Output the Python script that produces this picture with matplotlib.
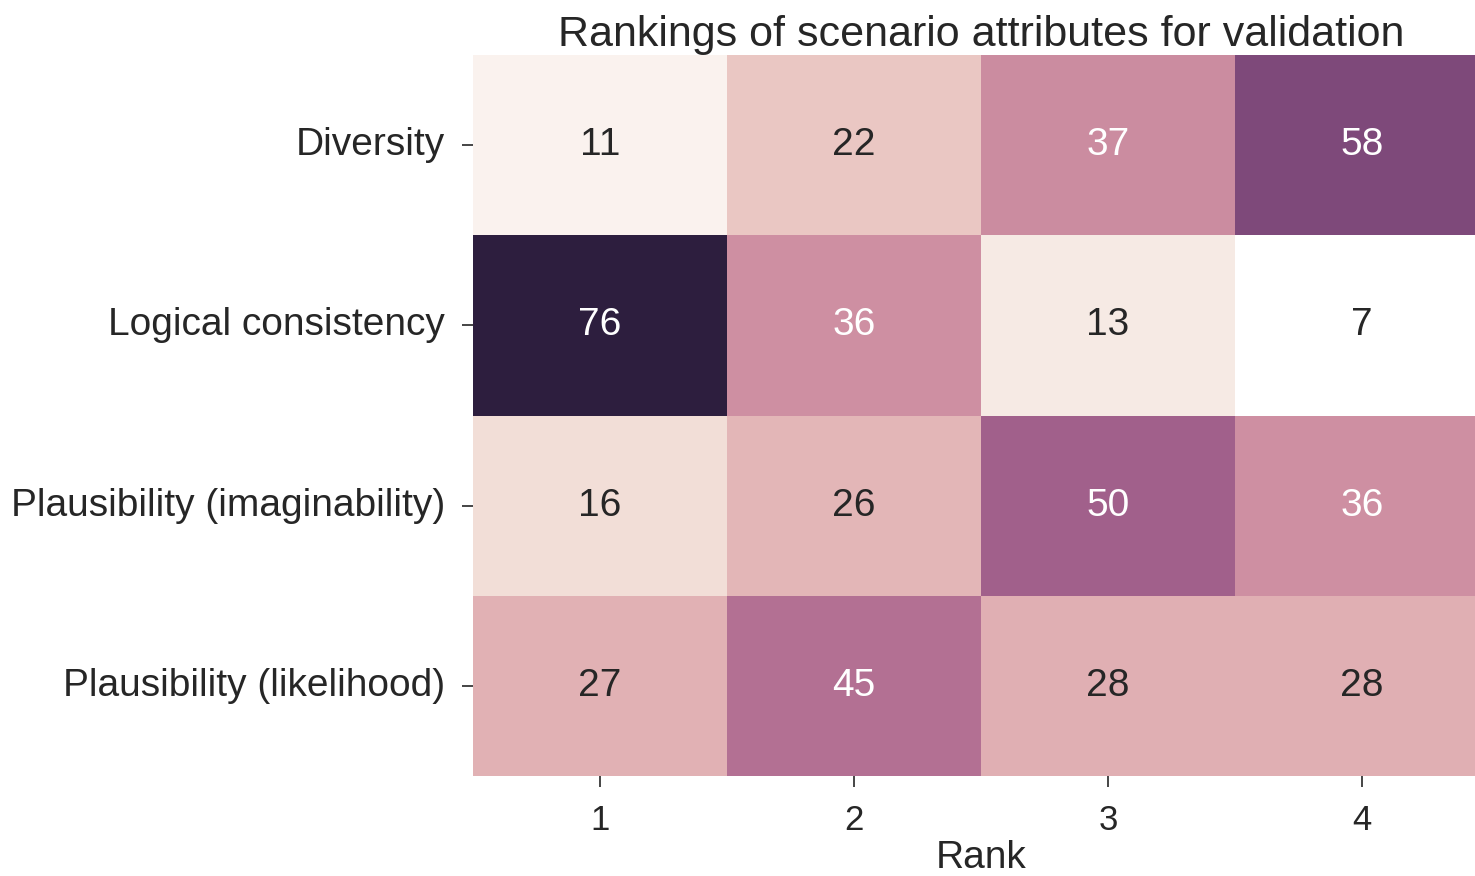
import matplotlib
matplotlib.use("Agg")
import matplotlib.pyplot as plt
import seaborn as sns
import pandas as pd

attributes = ["Diversity", "Logical consistency",
              "Plausibility (imaginability)", "Plausibility (likelihood)"]
ranks = [1, 2, 3, 4]
rank_1 = [11, 76, 16, 27]
rank_2 = [22, 36, 26, 45]
rank_3 = [37, 13, 50, 28]
rank_4 = [58, 7, 36, 28]

df = pd.DataFrame({1: rank_1, 2: rank_2, 3: rank_3, 4: rank_4}, index=attributes)

sns.set_theme(style="ticks", font_scale=1.0)
plt.rcParams['font.family'] = ['Liberation Sans', 'DejaVu Sans']

fig = plt.figure(figsize=(7.375, 4.38), dpi=200)
# heatmap runs a little past the right edge of the picture
ax = fig.add_axes([473 / 1475, 1 - 776 / 876, 1016 / 1475, (776 - 55) / 876])

cmap = sns.cubehelix_palette(light=1, as_cmap=True)
sns.heatmap(df, annot=True, fmt="d", cmap=cmap, cbar=False, ax=ax,
            annot_kws={"fontsize": 14})

ax.set_title("Rankings of scenario attributes for validation", fontsize=15.5, pad=3)
ax.set_xlabel("Rank", fontsize=14, labelpad=1)
ax.set_ylabel("")
ax.tick_params(axis="both", length=4, width=0.6, color="#262626")
ax.tick_params(axis="y", labelsize=14, pad=6)
ax.tick_params(axis="x", labelsize=12.5, pad=6)
ax.set_yticklabels(attributes, rotation=0)
ax.set_xticklabels(ranks, rotation=0)

fig.savefig("out.png", dpi=200)
